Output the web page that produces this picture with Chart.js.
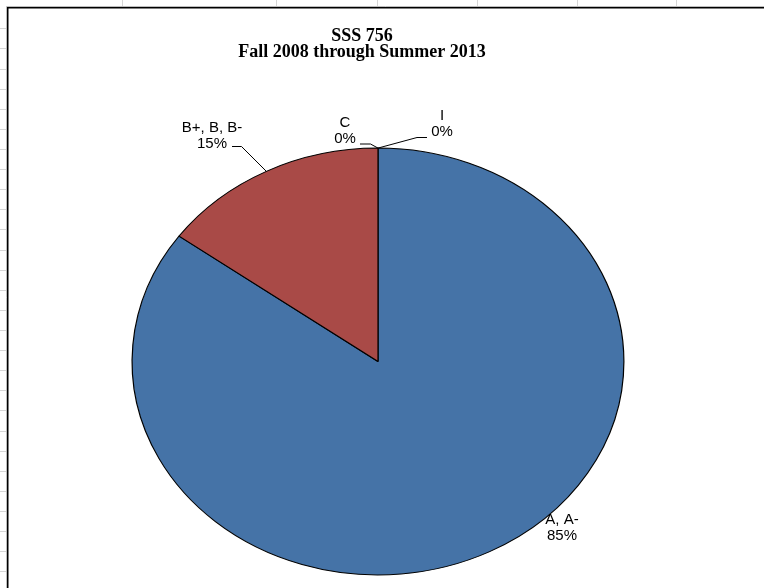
<!DOCTYPE html>
<html>
<head>
<meta charset="utf-8">
<title>SSS 756</title>
<script src="https://cdn.jsdelivr.net/npm/chart.js@4.4.1/dist/chart.umd.min.js"></script>
<style>
  html, body { margin: 0; padding: 0; background: #fff; }
  canvas { display: block; }
</style>
</head>
<body>
<canvas id="gradeChart" width="764" height="588"></canvas>
<script>
// grade groups and their share of the course, in percent
const gradeLabels = ['A, A-', 'B+, B, B-', 'C', 'I'];
const gradeShares = [85, 15, 0, 0];
const sliceColors = ['#4573A7', '#A94A47', '#8FA84E', '#7D62A0'];
const titleLines = ['SSS 756', 'Fall 2008 through Summer 2013'];

// Excel draws the pie as an ellipse; squash the round Chart.js pie vertically
const PIE_CENTER_Y = 361.5;
const Y_SQUASH = 213.5 / 246;

// where each data label sits (text centre) and its leader elbow, if any
const labelSpots = [
  { x: 562, y: 520, leader: null },
  { x: 212, y: 128, leader: [[232, 146.5], [241.5, 146.5]] },
  { x: 345, y: 123, leader: [[360, 144], [370.5, 144]] },
  { x: 442, y: 116, leader: [[427, 137.5], [417, 137.5]] },
];

const sheetPlugin = {
  id: 'sheet',
  beforeDraw(chart) {
    const ctx = chart.ctx;
    const w = chart.width;
    const h = chart.height;
    ctx.save();
    ctx.fillStyle = '#fff';
    ctx.fillRect(0, 0, w, h);
    // spreadsheet cell lines peeking out around the chart object
    ctx.strokeStyle = '#d6d6d6';
    ctx.lineWidth = 1;
    ctx.beginPath();
    [122, 276, 377, 477, 577, 676].forEach(x => {
      ctx.moveTo(x + 0.5, 0);
      ctx.lineTo(x + 0.5, 6);
    });
    for (let y = 28.3; y < h; y += 20.11) {
      const yy = Math.round(y) + 0.5;
      ctx.moveTo(0, yy);
      ctx.lineTo(6, yy);
    }
    ctx.stroke();
    // chart frame
    ctx.strokeStyle = '#bdbdbd';
    ctx.beginPath();
    ctx.moveTo(6.5, h);
    ctx.lineTo(6.5, 6.5);
    ctx.lineTo(w, 6.5);
    ctx.stroke();
    ctx.strokeStyle = '#000';
    ctx.lineWidth = 1.5;
    ctx.beginPath();
    ctx.moveTo(7.75, h);
    ctx.lineTo(7.75, 7.75);
    ctx.lineTo(w, 7.75);
    ctx.stroke();
    ctx.restore();
  },
};

const ellipsePlugin = {
  id: 'ellipse',
  beforeDatasetsDraw(chart) {
    const arc = chart.getDatasetMeta(0).data[0];
    const ctx = chart.ctx;
    ctx.save();
    ctx.translate(arc.x, PIE_CENTER_Y);
    ctx.scale(1, Y_SQUASH);
    ctx.translate(-arc.x, -arc.y);
  },
  afterDatasetsDraw(chart) {
    chart.ctx.restore();
  },
};

const labelPlugin = {
  id: 'gradeLabels',
  afterDraw(chart) {
    const ctx = chart.ctx;
    const arcs = chart.getDatasetMeta(0).data;
    const total = gradeShares.reduce((a, b) => a + b, 0);
    ctx.save();

    // title
    ctx.fillStyle = '#000';
    ctx.textAlign = 'center';
    ctx.textBaseline = 'middle';
    ctx.font = 'bold 18px "Liberation Serif", "Times New Roman", serif';
    ctx.fillText(titleLines[0], 362, 36);
    ctx.fillText(titleLines[1], 362, 52.5);

    ctx.font = '15px "Liberation Sans", Arial, sans-serif';
    ctx.strokeStyle = '#000';
    ctx.lineWidth = 1;
    arcs.forEach((arc, i) => {
      const spot = labelSpots[i];
      const pct = Math.round(gradeShares[i] / total * 100) + '%';
      ctx.fillText(gradeLabels[i], spot.x, spot.y);
      ctx.fillText(pct, spot.x, spot.y + 15.5);
      if (spot.leader) {
        const mid = (arc.startAngle + arc.endAngle) / 2;
        const ax = arc.x + arc.outerRadius * Math.cos(mid);
        const ay = PIE_CENTER_Y + arc.outerRadius * Y_SQUASH * Math.sin(mid);
        ctx.beginPath();
        ctx.moveTo(spot.leader[0][0], spot.leader[0][1]);
        ctx.lineTo(spot.leader[1][0], spot.leader[1][1]);
        ctx.lineTo(ax, ay);
        ctx.stroke();
      }
    });
    ctx.restore();
  },
};

const gradeChart = new Chart(document.getElementById('gradeChart'), {
  type: 'pie',
  data: {
    labels: gradeLabels,
    datasets: [
      {
        data: gradeShares,
        backgroundColor: sliceColors,
        borderColor: '#000',
        borderWidth: 1.2,
        clip: false,
      },
    ],
  },
  options: {
    responsive: false,
    animation: false,
    layout: {
      padding: { left: 131.5, right: 139.5, top: 47.5, bottom: 47.5 },
    },
    plugins: {
      legend: { display: false },
      tooltip: { enabled: false },
      title: { display: false },
    },
  },
  plugins: [sheetPlugin, ellipsePlugin, labelPlugin],
});
</script>
</body>
</html>
